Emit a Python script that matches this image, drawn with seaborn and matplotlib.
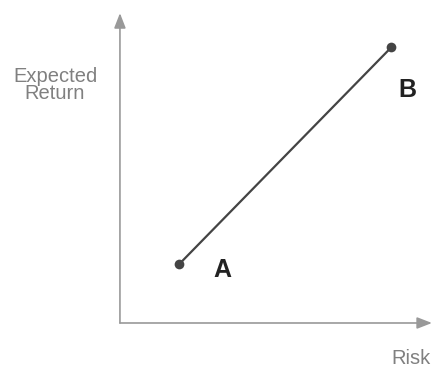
import pandas as pd
import matplotlib
matplotlib.use('Agg')
import matplotlib.pyplot as plt
import seaborn as sns

# Portfolio points (risk, expected return) on a 0-10 scale
labels = ['A', 'B']
risk = [1.9, 8.7]
expected_return = [1.9, 8.9]

data = pd.DataFrame({'Label': labels, 'Risk': risk, 'Return': expected_return})

sns.set_style('white')
plt.rcParams['font.family'] = ['Liberation Sans', 'DejaVu Sans']

fig = plt.figure(figsize=(4.33, 3.68), dpi=100)
ax = fig.add_axes([0.277, 0.1223, 0.7206, 0.842])

sns.lineplot(x='Risk', y='Return', data=data, ax=ax, color='#444444',
             linewidth=1.6, marker='o', markersize=7, markeredgewidth=0,
             sort=False)

ax.set_xlim(0, 10)
ax.set_ylim(0, 10)
for s in ax.spines.values():
    s.set_visible(False)
ax.set_xticks([])
ax.set_yticks([])
ax.set_xlabel('')
ax.set_ylabel('')

# Axis arrows
arrow = dict(arrowstyle='-|>,head_length=0.9,head_width=0.35', color='#999999',
             lw=1.2, shrinkA=0, shrinkB=0)
ax.annotate('', xy=(10, 0), xytext=(0, 0), arrowprops=arrow, annotation_clip=False)
ax.annotate('', xy=(0, 10), xytext=(0, 0), arrowprops=arrow, annotation_clip=False)

# Point labels
ax.annotate('A', xy=(risk[0], expected_return[0]), xytext=(43, -6),
            textcoords='offset pixels', ha='center', va='center',
            fontsize=18, fontweight='bold', color='#222222')
ax.annotate('B', xy=(risk[1], expected_return[1]), xytext=(16, -43),
            textcoords='offset pixels', ha='center', va='center',
            fontsize=18, fontweight='bold', color='#222222')

# Axis titles
fig.text(55 / 433, 1 - 85 / 368, 'Expected\nReturn', ha='center', va='center',
         fontsize=14.5, color='#808080', linespacing=0.92)
fig.text(431 / 433, 1 - 359 / 368, 'Risk', ha='right', va='center',
         fontsize=14.5, color='#808080')

fig.savefig('out.png', dpi=100)
